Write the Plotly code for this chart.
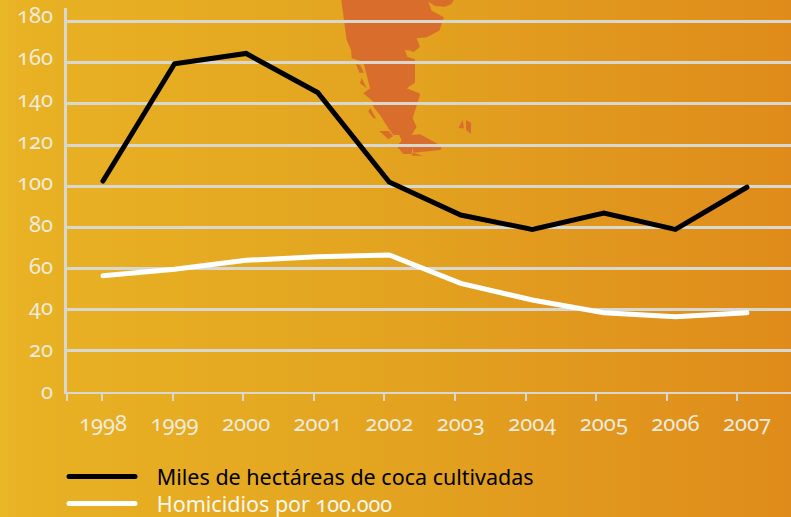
import plotly.graph_objects as go

W, H = 791, 517
FONT = "Noto Sans"

years = [1998, 1999, 2000, 2001, 2002, 2003, 2004, 2005, 2006, 2007]
coca = [102.5, 159.5, 164.5, 145.5, 102, 86, 79, 87, 79, 99.5]
homicidios = [56.5, 59.6, 64, 65.7, 66.6, 52.8, 44.7, 38.5, 36.6, 38.5]
y_ticks = [0, 20, 40, 60, 80, 100, 120, 140, 160, 180]
coca_name = "Miles de hectáreas de coca cultivadas"
homicidios_name = "Homicidios por 100.000"

GRID = "#D9D8D0"
LABEL = "#F0EBDD"
MAP = "#D96E2C"


def px(x):
    return x / W


def py(y):
    return 1 - y / H


def path(points):
    points = [(320 + a / 3, b / 3) for a, b in points]
    return "M" + "L".join(f"{px(a):.5f},{py(b):.5f}" for a, b in points) + "Z"


map_main = [(63, -5), (72, 60), (80, 120), (93, 150), (95, 175), (130, 185), (150, 265), (130, 280),
            (160, 305), (160, 320), (180, 345), (205, 385), (220, 405), (238, 405), (245, 422),
            (230, 438), (250, 462), (275, 462), (278, 440), (280, 458), (362, 450), (365, 438),
            (300, 403), (275, 405), (290, 380), (278, 355), (300, 285), (298, 280), (260, 265),
            (285, 248), (285, 178), (262, 170), (255, 150), (272, 152), (280, 157), (300, 140),
            (290, 115), (320, 112), (358, 92), (372, 52), (335, 32), (325, 5), (345, 18), (375, 20),
            (395, 12), (403, -5)]
map_islands = [
    [(108, 192), (120, 195), (132, 218), (118, 218)],
    [(125, 233), (140, 265), (120, 250)],
    [(150, 323), (168, 355), (160, 355), (145, 335)],
    [(178, 393), (205, 393), (220, 408), (205, 418)],
    [(428, 360), (432, 385), (415, 385)],
    [(438, 360), (453, 368), (453, 402), (438, 390)],
    [(278, 458), (310, 467), (275, 467)],
]

stops = [(0, (234, 184, 38)), (20, (232, 178, 36)), (400, (227, 163, 32)), (791, (223, 139, 27))]


def color_at(x):
    for (x0, c0), (x1, c1) in zip(stops, stops[1:]):
        if x <= x1:
            t = (x - x0) / (x1 - x0)
            return "rgb(%d,%d,%d)" % tuple(round(a + (b - a) * t) for a, b in zip(c0, c1))
    return "rgb(%d,%d,%d)" % stops[-1][1]


shapes = []
step = 8
for x in range(0, W, step):
    shapes.append(dict(type="rect", xref="paper", yref="paper", layer="below",
                       x0=px(x), x1=px(x + step + 1), y0=0, y1=1,
                       fillcolor=color_at(x + step / 2), line_width=0))
for poly in [map_main] + map_islands:
    shapes.append(dict(type="path", xref="paper", yref="paper", layer="below",
                       path=path(poly), fillcolor=MAP, line_width=0))

fig = go.Figure()
# keep the tick-mark axis and the label axis alive; these traces draw nothing visible
fig.add_trace(go.Scatter(x=years, y=[None] * len(years), xaxis="x", yaxis="y", mode="lines",
                         showlegend=False, hoverinfo="skip", line=dict(width=0)))
fig.add_trace(go.Scatter(x=years, y=[None] * len(years), xaxis="x", yaxis="y2", mode="lines",
                         showlegend=False, hoverinfo="skip", line=dict(width=0)))
fig.add_trace(go.Scatter(x=years, y=coca, xaxis="x2", mode="lines", legend="legend",
                         name=f'<span style="color:#000000">&nbsp;&nbsp;&nbsp;{coca_name}</span>',
                         line=dict(color="#000000", width=5)))
fig.add_trace(go.Scatter(x=years, y=homicidios, xaxis="x2", mode="lines", legend="legend2",
                         name=f'<span style="color:#FBF8EE">&nbsp;&nbsp;&nbsp;{homicidios_name}</span>',
                         line=dict(color="#FFFFFF", width=5)))

tick_step = 70.6
x_lo = 1998 + (67 - 102) / tick_step
x_hi = 1998 + (791 - 102) / tick_step
data_step = 71.55
x2_lo = 1998 + (67 - 103) / data_step
x2_hi = 1998 + (791 - 103) / data_step

legend_style = dict(x=px(64), xanchor="left", yanchor="top", bgcolor="rgba(0,0,0,0)", itemwidth=66,
                    font=dict(family=FONT, size=21.5, color="#000000"))

fig.update_layout(
    width=W, height=H,
    margin=dict(l=0, r=0, t=0, b=0, autoexpand=False),
    paper_bgcolor="#E3A320", plot_bgcolor="rgba(0,0,0,0)",
    shapes=shapes,
    font=dict(family=FONT, size=22, color=LABEL),
    xaxis=dict(domain=[px(67), 1], range=[x_lo, x_hi], tickmode="array",
               tickvals=[x_lo] + years, showticklabels=False, ticks="outside", ticklen=7,
               tickwidth=2, tickcolor=GRID, showline=True, linecolor=GRID, linewidth=2,
               showgrid=False, zeroline=False),
    xaxis2=dict(domain=[px(67), 1], overlaying="x", anchor="y", side="bottom", range=[x2_lo, x2_hi],
                tickmode="array",
                tickvals=years, ticktext=[str(v) for v in years], ticks="", showline=False,
                showgrid=False, zeroline=False, ticklabelstandoff=16,
                tickfont=dict(family=FONT, size=22, color=LABEL)),
    yaxis=dict(domain=[py(392), py(8)], range=[0, (392 - 8) / 2.058], tickmode="array",
               tickvals=y_ticks, ticks="", showticklabels=False, showline=True, linecolor=GRID,
               linewidth=2.5, showgrid=True, gridcolor=GRID, gridwidth=2.5, zeroline=False),
    # labels in the reference spread a little wider than the gridlines
    yaxis2=dict(domain=[py(392), py(8)], overlaying="y", anchor="x", side="left",
                range=[-1 / 2.085, (391 - 8) / 2.085], tickmode="array", tickvals=y_ticks, ticks="",
                showline=False, showgrid=False, zeroline=False, ticklabelstandoff=13,
                ticklabeloverflow="allow",
                tickfont=dict(family=FONT, size=22, color=LABEL)),
    legend=dict(y=py(456), **legend_style),
    legend2=dict(y=py(483), **legend_style),
    showlegend=True,
)

post = """
document.body.style.margin = '0';
var s = document.createElement('style');
s.textContent = '*{font-variant-numeric:oldstyle-nums;font-feature-settings:"onum" 1}';
document.head.appendChild(s);
document.querySelectorAll('.js-line').forEach(function (e) { e.style.strokeLinecap = 'round'; });
"""
fig.write_html("out.html", config=dict(displayModeBar=False), post_script=post)
